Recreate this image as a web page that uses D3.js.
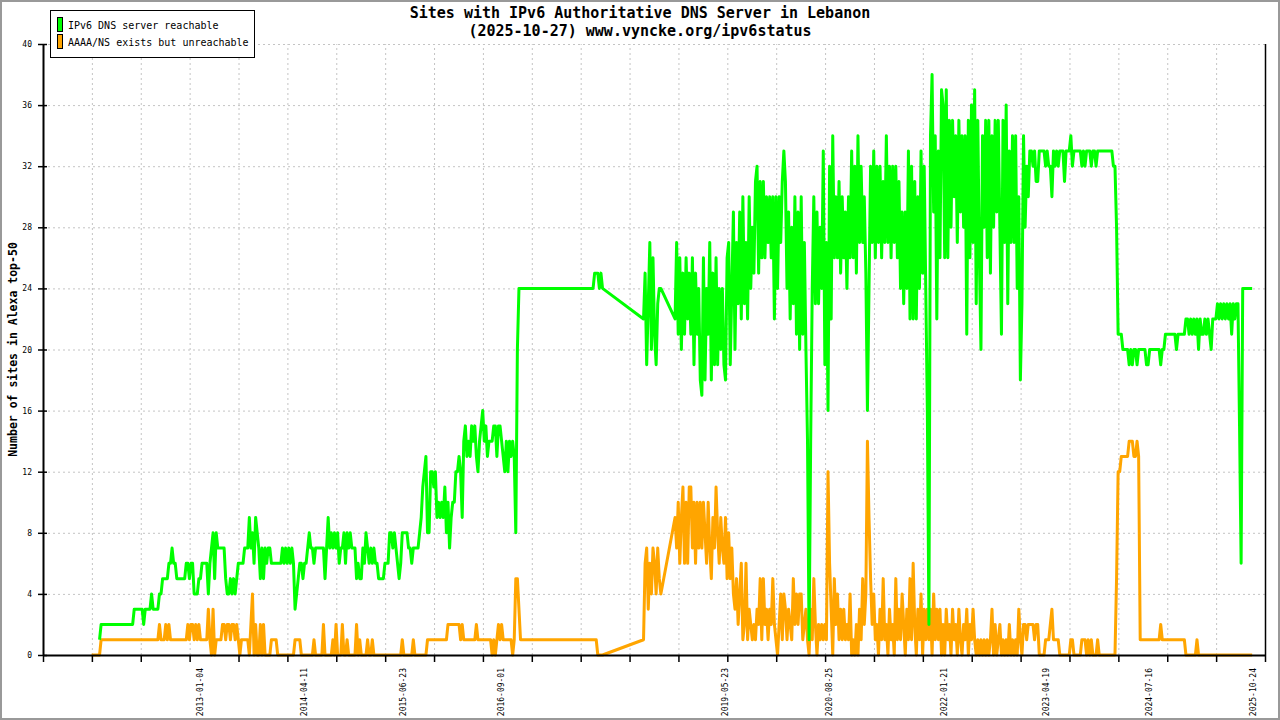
<!DOCTYPE html>
<html>
<head>
<meta charset="utf-8">
<title>Sites with IPv6 Authoritative DNS Server in Lebanon</title>
<script src="https://cdn.jsdelivr.net/npm/d3@7"></script>
<style>
  body { margin: 0; background: #fff; }
  svg text { font-family: 'DejaVu Sans Mono', 'Liberation Mono', monospace; }
</style>
</head>
<body>
<div id="chart"></div>
<script>
const titleLines = [
  'Sites with IPv6 Authoritative DNS Server in Lebanon',
  '(2025-10-27) www.vyncke.org/ipv6status'
];
const yTitle = 'Number of sites in Alexa top-50';
const seriesNames = ['IPv6 DNS server reachable', 'AAAA/NS exists but unreachable'];
const seriesColors = ['#00ff00', '#ffa500'];

// x axis runs over this period, 25 equal tick intervals
const axisStart = '2011-02-08';
const axisEnd = '2025-12-16';
const dateLabels = ['2013-01-04', '2014-04-11', '2015-06-23', '2016-09-01', '2019-05-23',
  '2020-08-25', '2022-01-21', '2023-04-19', '2024-07-16', '2025-10-24'];
const yTicks = [0, 4, 8, 12, 16, 20, 24, 28, 32, 36, 40];

// one value per week from firstWeek on, null = no snapshot that week
const firstWeek = '2011-09-12';
const weekDays = 7;

const reachable = [
  null,null,null,null,null,1,2,2,2,2,2,2,2,2,2,2,2,2,2,2,
  2,2,2,2,2,2,2,3,3,3,3,3,3,2,3,3,3,3,4,3,
  3,3,3,4,4,5,5,5,5,6,6,7,6,6,5,5,5,5,5,5,
  6,6,5,6,6,4,4,4,5,5,6,6,6,6,4,6,7,8,5,8,
  7,7,7,7,7,5,4,4,5,4,5,4,5,6,6,6,6,7,7,7,
  9,7,8,6,9,8,7,5,7,5,7,6,7,7,6,6,6,6,6,6,
  6,7,6,7,6,7,6,7,6,3,4,5,6,6,5,6,6,7,8,7,
  7,6,7,7,7,7,7,7,5,7,9,7,8,7,8,7,8,6,7,7,
  8,6,8,7,8,7,7,7,5,6,5,5,7,6,8,7,6,7,6,7,
  6,6,5,5,5,5,6,6,6,8,8,7,8,7,6,5,6,8,8,8,
  8,7,7,6,7,7,7,7,8,9,11,12,13,8,8,12,12,11,12,9,
  10,9,10,9,11,8,10,7,9,10,10,12,12,13,12,9,14,15,13,14,
  13,15,14,15,13,12,14,15,16,14,15,13,14,14,14,15,15,13,15,15,
  14,13,12,14,12,14,13,14,13,8,20,24,24,24,24,24,24,24,24,24,
  24,24,24,24,24,24,24,24,24,24,24,24,24,24,24,24,24,24,24,24,
  24,24,24,24,24,24,24,24,24,24,24,24,24,24,24,24,24,24,24,25,
  25,25,24,25,24,null,null,null,null,null,null,null,null,null,null,null,null,null,null,null,
  null,null,null,null,null,null,null,null,null,null,22,25,19,23,27,20,26,21,19,23,
  24,24,null,null,null,null,null,null,null,null,22,27,21,26,20,25,21,26,22,25,
  21,26,19,25,21,24,18,17,26,18,24,21,27,18,25,19,26,19,24,20,
  24,19,18,26,27,19,24,29,20,27,23,29,22,30,23,27,22,30,24,28,
  25,31,32,25,31,26,31,26,30,27,30,26,30,22,30,24,30,27,31,33,
  31,24,29,22,28,23,30,21,29,20,30,21,27,20,14,1,14,24,30,23,
  29,23,28,24,33,19,27,16,32,22,34,26,30,26,31,25,30,26,29,24,
  30,26,33,26,32,25,34,27,32,27,30,25,16,24,32,27,33,26,32,27,
  32,26,31,27,34,27,32,26,32,27,32,26,31,24,29,23,29,24,33,22,
  32,22,31,22,30,24,33,25,32,24,16,2,34,38,29,34,22,33,26,37,
  36,26,37,26,35,28,35,30,34,27,35,29,34,28,34,21,35,26,36,27,
  37,23,35,26,20,34,28,35,26,35,25,34,28,35,29,35,28,21,35,27,
  36,23,33,27,34,27,34,24,30,18,23,34,28,32,30,33,33,32,33,31,
  31,33,33,33,33,32,33,32,32,30,33,32,33,32,33,33,33,31,33,33,
  33,34,32,33,33,33,33,33,32,33,32,33,33,33,32,33,33,32,33,33,
  33,33,33,33,33,33,33,33,32,32,28,21,21,21,20,20,20,20,19,20,
  19,20,20,19,20,20,20,20,20,19,19,20,20,20,20,20,20,20,19,20,
  20,21,21,21,21,21,21,21,20,21,21,21,21,21,22,22,21,22,21,22,
  21,22,20,22,21,21,22,21,22,21,20,22,22,22,23,22,23,22,23,22,
  23,22,23,21,23,22,23,23,15,6,24,24,24,24,24,24,24
];

const unreachable = [
  0,0,0,0,0,0,1,1,1,1,1,1,1,1,1,1,1,1,1,1,
  1,1,1,1,1,1,1,1,1,1,1,1,1,1,1,1,1,1,1,1,
  1,1,1,2,1,1,1,2,1,2,1,1,1,1,1,1,1,1,1,1,
  1,2,1,2,2,1,2,1,2,1,1,1,1,1,3,1,0,3,0,1,
  1,1,1,2,2,1,2,2,1,2,2,1,2,1,0,1,1,1,1,1,
  0,2,4,0,2,0,0,2,0,2,0,0,0,0,1,1,1,1,0,0,
  0,0,0,0,0,0,0,0,0,1,1,1,1,0,0,0,0,0,0,0,
  0,1,0,0,0,0,0,2,0,0,0,0,0,1,0,2,0,0,0,2,
  0,0,1,0,0,0,0,0,2,0,1,0,0,0,0,1,0,0,1,0,
  0,0,0,0,0,0,0,0,0,0,0,0,0,0,0,0,0,1,0,0,
  0,0,0,0,1,0,0,0,0,0,0,0,0,1,1,1,1,1,1,1,
  1,1,1,1,1,1,2,2,2,2,2,2,2,2,1,2,1,1,1,1,
  1,1,1,1,2,1,1,1,1,1,1,1,1,1,0,1,0,1,2,1,
  2,1,1,1,1,1,1,0,1,5,5,3,1,1,1,1,1,1,1,1,
  1,1,1,1,1,1,1,1,1,1,1,1,1,1,1,1,1,1,1,1,
  1,1,1,1,1,1,1,1,1,1,1,1,1,1,1,1,1,1,1,1,
  1,0,0,0,0,null,null,null,null,null,null,null,null,null,null,null,null,null,null,null,
  null,null,null,null,null,null,null,null,null,null,1,6,7,3,6,4,7,6,4,7,
  5,4,null,null,null,null,null,null,null,null,9,7,10,6,9,11,6,10,6,11,
  11,7,10,6,10,7,10,7,10,8,6,10,7,5,9,7,11,8,6,9,
  7,6,9,5,8,5,7,4,3,5,2,4,6,1,2,6,1,3,2,1,
  2,1,3,2,5,1,5,2,3,1,3,2,5,2,1,0,2,4,1,4,
  3,1,3,2,1,5,2,4,2,4,4,1,2,3,1,0,3,1,5,2,
  0,2,1,2,1,2,1,12,6,3,0,5,2,4,1,3,1,3,1,2,
  1,4,0,1,0,2,0,3,1,5,2,4,14,9,5,2,4,1,2,0,
  3,1,5,1,2,0,3,1,2,0,5,1,3,1,4,2,0,3,1,5,
  1,6,2,0,3,1,4,0,3,1,3,1,3,0,4,1,3,1,3,0,
  2,0,3,1,2,0,3,1,2,0,3,1,0,2,1,3,0,2,1,3,
  1,0,1,0,1,0,1,0,1,0,1,3,0,2,0,1,2,0,1,0,
  1,0,2,0,1,0,1,0,3,1,0,2,2,1,2,2,2,2,1,2,
  2,0,0,0,0,1,1,1,2,3,1,1,1,1,0,0,0,0,0,0,
  0,1,1,0,0,0,0,0,1,1,1,0,1,0,1,0,0,0,1,0,
  0,0,0,0,0,0,0,0,0,0,5,12,12,13,13,13,13,13,14,14,
  14,13,13,14,13,1,1,1,1,1,1,1,1,1,1,1,1,1,2,1,
  1,1,1,1,1,1,1,1,1,1,1,1,1,1,0,0,0,0,0,0,
  0,1,0,0,0,0,0,0,0,0,0,0,0,0,0,0,0,0,0,0,
  0,0,0,0,0,0,0,0,0,0,0,0,0,0,0,0,0
];

const svgWidth = 1280;
const svgHeight = 720;
const plot = { left: 43, right: 1265, top: 44, bottom: 655 };

const parseDate = d3.utcParse('%Y-%m-%d');

// turn the weekly list into {date, value}, skipping weeks with no snapshot
function toPoints(values) {
  const start = parseDate(firstWeek);
  return values
    .map((v, i) => ({ date: d3.utcDay.offset(start, i * weekDays), value: v }))
    .filter(d => d.value !== null);
}

function drawChart() {
  const svg = d3.select('#chart')
    .append('svg')
    .attr('width', svgWidth)
    .attr('height', svgHeight)
    .style('display', 'block')
    .style('background-color', '#ffffff');

  const x = d3.scaleUtc()
    .domain([parseDate(axisStart), parseDate(axisEnd)])
    .range([plot.left, plot.right]);

  const y = d3.scaleLinear()
    .domain([0, 40])
    .range([plot.bottom, plot.top]);

  const d0 = x.domain()[0], d1 = x.domain()[1];
  const xTicks = d3.range(26).map(i => new Date(+d0 + i * (d1 - d0) / 25));

  // dotted grid
  svg.append('g')
    .attr('transform', `translate(0,${plot.bottom})`)
    .call(d3.axisBottom(x).tickValues(xTicks.slice(1, -1)).tickFormat('')
      .tickSizeInner(-(plot.bottom - plot.top)).tickSizeOuter(0))
    .call(g => g.select('.domain').remove())
    .selectAll('.tick line')
    .attr('stroke', '#c4c4c4')
    .attr('stroke-dasharray', '2,3');

  svg.append('g')
    .attr('transform', `translate(${plot.left},0)`)
    .call(d3.axisLeft(y).tickValues(yTicks.slice(1)).tickFormat('')
      .tickSizeInner(-(plot.right - plot.left)).tickSizeOuter(0))
    .call(g => g.select('.domain').remove())
    .selectAll('.tick line')
    .attr('stroke', '#c4c4c4')
    .attr('stroke-dasharray', '2,3');

  // the two series, reachable drawn last so it sits on top
  const line = d3.line()
    .x(d => x(d.date))
    .y(d => y(d.value));

  const series = [
    { name: seriesNames[0], color: seriesColors[0], points: toPoints(reachable) },
    { name: seriesNames[1], color: seriesColors[1], points: toPoints(unreachable) }
  ];

  svg.append('g')
    .selectAll('path')
    .data(series.slice().reverse())
    .enter()
    .append('path')
    .attr('fill', 'none')
    .attr('stroke', s => s.color)
    .attr('stroke-width', 3)
    .attr('stroke-linejoin', 'round')
    .attr('d', s => line(s.points));

  // x axis with plain ticks
  const xAxisG = svg.append('g')
    .attr('transform', `translate(0,${plot.bottom})`)
    .call(d3.axisBottom(x).tickValues(xTicks).tickFormat('').tickSizeInner(7).tickSizeOuter(0));
  xAxisG.select('.domain').attr('stroke-width', 2);
  xAxisG.selectAll('.tick line').attr('stroke-width', 1.5);

  // date labels, turned upright
  svg.append('g')
    .attr('transform', `translate(0,${plot.bottom})`)
    .call(d3.axisBottom(x).tickValues(dateLabels.map(parseDate))
      .tickFormat(d3.utcFormat('%Y-%m-%d')).tickSize(0))
    .call(g => g.select('.domain').remove())
    .selectAll('text')
    .attr('transform', 'rotate(-90)')
    .attr('text-anchor', 'end')
    .attr('x', -13)
    .attr('y', 0)
    .attr('dy', '0.35em')
    .attr('font-family', "'DejaVu Sans Mono', monospace")
    .attr('font-size', 8)
    .attr('fill', '#000');

  // y axis, ticks cross the line
  const yAxisG = svg.append('g')
    .attr('transform', `translate(${plot.left},0)`)
    .call(d3.axisLeft(y).tickValues(yTicks).tickSizeInner(5).tickSizeOuter(0).tickPadding(6));
  yAxisG.select('.domain').attr('stroke-width', 2);
  yAxisG.selectAll('.tick line').attr('x1', 4).attr('stroke-width', 1.5);
  yAxisG.selectAll('text')
    .attr('font-family', "'DejaVu Sans Mono', monospace")
    .attr('font-size', 8)
    .attr('fill', '#000');

  // right edge of the plot
  svg.append('line')
    .attr('x1', plot.right + 0.5).attr('x2', plot.right + 0.5)
    .attr('y1', plot.top).attr('y2', plot.bottom)
    .attr('stroke', '#000')
    .attr('stroke-width', 1.5);

  svg.append('text')
    .attr('transform', `translate(13,${(plot.top + plot.bottom) / 2}) rotate(-90)`)
    .attr('text-anchor', 'middle')
    .attr('dy', '0.35em')
    .attr('font-size', 11.5)
    .attr('font-weight', 'bold')
    .text(yTitle);

  svg.append('g')
    .selectAll('text')
    .data(titleLines)
    .enter()
    .append('text')
    .attr('x', svgWidth / 2)
    .attr('y', (d, i) => 18 + i * 18)
    .attr('text-anchor', 'middle')
    .attr('font-size', 15)
    .attr('font-weight', 'bold')
    .text(d => d);

  // legend
  const legend = svg.append('g');
  legend.append('rect')
    .attr('x', 50.5).attr('y', 10.5)
    .attr('width', 204).attr('height', 47)
    .attr('fill', '#fff')
    .attr('stroke', '#000');

  const item = legend.selectAll('g.item')
    .data(series)
    .enter()
    .append('g')
    .attr('class', 'item')
    .attr('transform', (d, i) => `translate(0,${i * 17})`);

  item.append('rect')
    .attr('x', 57.5).attr('y', 17.5)
    .attr('width', 5).attr('height', 14)
    .attr('fill', d => d.color)
    .attr('stroke', '#000');

  item.append('text')
    .attr('x', 68)
    .attr('y', 29)
    .attr('font-size', 10)
    .text(d => d.name);

  // grey frame round the picture
  svg.append('rect')
    .attr('x', 1).attr('y', 1)
    .attr('width', svgWidth - 2).attr('height', svgHeight - 2)
    .attr('fill', 'none')
    .attr('stroke', '#999')
    .attr('stroke-width', 2);
}

drawChart();
</script>
</body>
</html>
